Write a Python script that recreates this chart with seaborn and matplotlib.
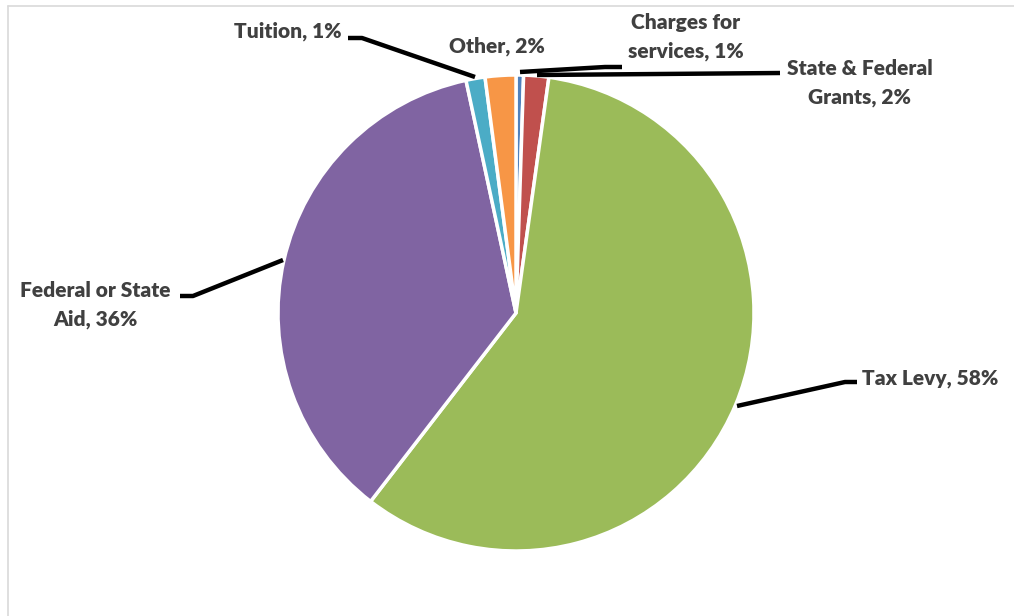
import matplotlib
matplotlib.use("Agg")
import matplotlib.pyplot as plt
import seaborn as sns
from matplotlib.lines import Line2D

sns.set_theme(style="white")
plt.rcParams['font.family'] = ['Lato', 'DejaVu Sans']

categories = ["Charges for\nservices", "State & Federal\nGrants", "Tax Levy",
              "Federal or State\nAid", "Tuition", "Other"]
values = [0.51, 1.70, 58.25, 36.17, 1.29, 2.08]
colors = sns.color_palette(["#4F81BD", "#C0504D", "#9BBB59", "#8064A2", "#4BACC6", "#F79646"])

W, H = 1014, 616
CX, CY, R = 516, 313, 238

fig = plt.figure(figsize=(W / 100, H / 100), dpi=100)
ax = fig.add_axes([(CX - R) / W, (H - CY - R) / H, 2 * R / W, 2 * R / H])
ax.pie(values, colors=colors, startangle=90, counterclock=False, radius=1,
       wedgeprops=dict(edgecolor="white", linewidth=2.5))
ax.set_xlim(-1, 1)
ax.set_ylim(-1, 1)
ax.set_aspect("equal")
ax.axis("off")


def d(px, py):
    return ((px - CX) / R, (CY - py) / R)


labels = [f"{c}, {round(v)}%" for c, v in zip(categories, values)]

# label positions (pixels) and alignment
label_pos = [
    ((686, 37), "center"),
    ((860, 83), "center"),
    ((930, 378), "center"),
    ((95, 305), "center"),
    ((288, 31), "center"),
    ((497, 46), "center"),
]
for lab, ((px, py), ha) in zip(labels, label_pos):
    x, y = d(px, py)
    ax.text(x, y, lab, ha=ha, va="center", fontsize=15, fontweight="heavy",
            color="#404040", linespacing=1.55, clip_on=False)

leaders = [
    [(520, 72), (605, 67), (622, 67)],
    [(537, 75), (780, 73)],
    [(737, 406), (845, 382), (857, 382)],
    [(283, 260), (193, 296), (180, 296)],
    [(475, 77), (362, 38), (348, 38)],
]
for pts in leaders:
    xs, ys = zip(*[d(px, py) for px, py in pts])
    ax.add_line(Line2D(xs, ys, color="black", linewidth=3.2, clip_on=False,
                       solid_capstyle="butt"))

# chart-area border (top and left visible)
fig.add_artist(Line2D([7.5 / W, 1.0], [1 - 5.5 / H, 1 - 5.5 / H], color="#d9d9d9",
                      linewidth=1.2, transform=fig.transFigure))
fig.add_artist(Line2D([7.5 / W, 7.5 / W], [0, 1 - 5.5 / H], color="#d9d9d9",
                      linewidth=1.2, transform=fig.transFigure))

fig.savefig("out.png", dpi=100, facecolor="white")
